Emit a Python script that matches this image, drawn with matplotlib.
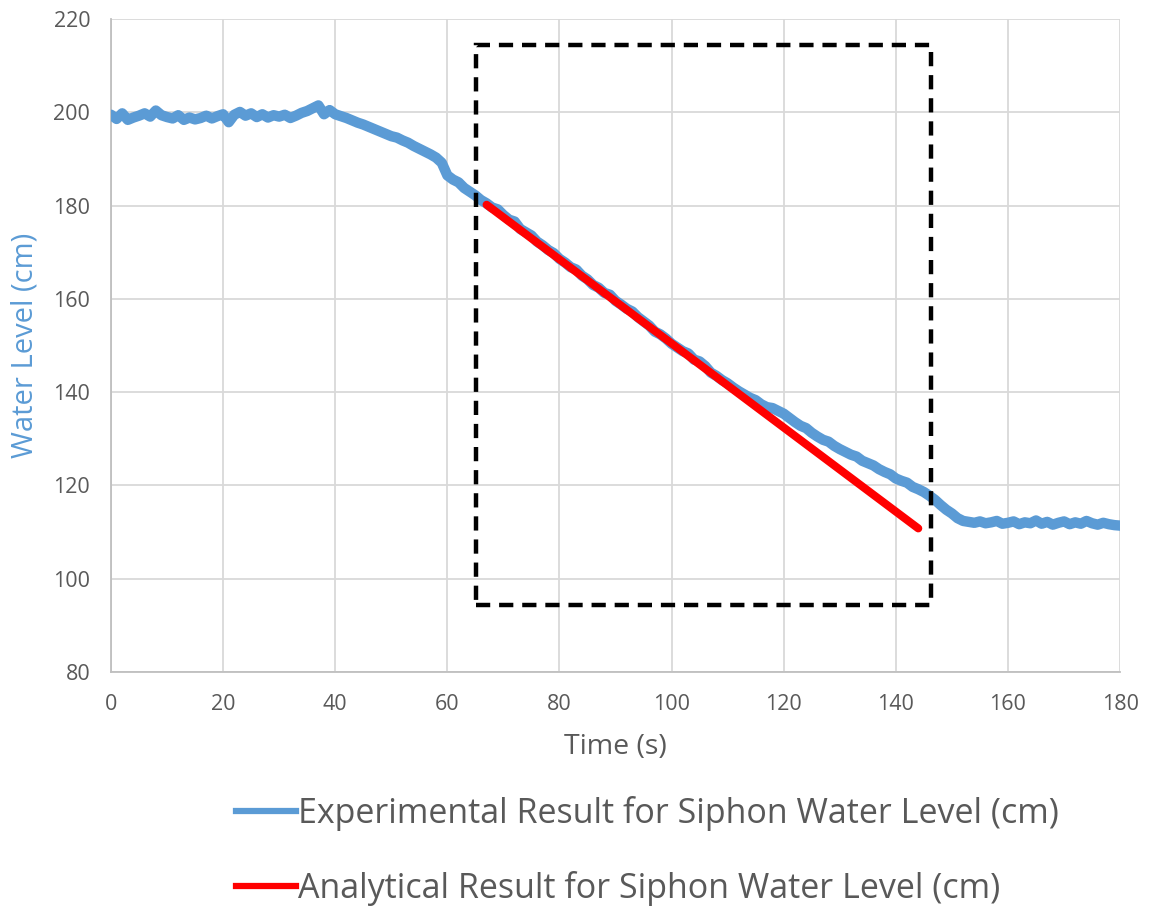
import matplotlib
matplotlib.use("Agg")
import matplotlib.pyplot as plt
from matplotlib.patches import Rectangle
from matplotlib.lines import Line2D

# ---- data ----
time_s = list(range(0, 181))
level_exp = [
    199.5, 198.6, 199.8, 198.4, 198.9, 199.3, 199.8, 199.1, 200.4, 199.4,
    199.0, 198.7, 199.4, 198.4, 198.9, 198.5, 198.8, 199.3, 198.7, 199.2,
    199.6, 197.9, 199.5, 200.1, 199.3, 199.8, 199.0, 199.6, 198.9, 199.4,
    199.1, 199.5, 198.8, 199.3, 199.9, 200.3, 200.9, 201.5, 199.6, 200.5,
    199.6, 199.2, 198.8, 198.3, 197.8, 197.4, 196.9, 196.4, 195.9, 195.4,
    194.9, 194.6, 194.0, 193.5, 192.8, 192.2, 191.6, 191.0, 190.3, 189.2,
    186.5, 185.6, 185.0, 183.8, 183.0, 182.2, 181.2, 180.5, 179.6, 179.2,
    178.0, 177.0, 176.6, 175.0, 174.3, 173.6, 172.3, 171.5, 170.5, 169.8,
    168.6, 167.8, 166.8, 166.3, 165.0, 164.2, 163.0, 162.4, 161.3, 160.9,
    159.6, 158.8, 157.9, 157.3, 156.1, 155.2, 154.3, 153.0, 152.4, 151.5,
    150.4, 149.6, 148.8, 148.3, 147.0, 146.6, 145.6, 144.2, 143.5, 142.6,
    141.9, 141.0, 140.2, 139.5, 138.8, 138.3, 137.4, 136.8, 136.6, 136.0,
    135.4, 134.5, 133.6, 132.8, 132.3, 131.3, 130.5, 129.8, 129.4, 128.5,
    127.8, 127.2, 126.6, 126.2, 125.3, 124.8, 124.3, 123.5, 122.9, 122.4,
    121.5, 121.0, 120.6, 119.7, 119.2, 118.6, 117.8, 116.9, 115.8, 114.8,
    114.0, 113.0, 112.4, 112.2, 112.0, 112.3, 111.9, 112.1, 112.4, 111.8,
    112.0, 112.3, 111.7, 112.1, 111.9, 112.5, 111.8, 112.2, 111.6, 112.0,
    112.3, 111.7, 112.1, 111.8, 112.4, 111.9, 111.6, 112.0, 111.7, 111.5,
    111.4,
]
time_analytical = [67, 144]
level_analytical = [180.2, 110.8]

x_ticks = [0, 20, 40, 60, 80, 100, 120, 140, 160, 180]
y_ticks = [80, 100, 120, 140, 160, 180, 200, 220]

# highlight box (data coords)
box_x0, box_x1 = 65.1, 146.3
box_y0, box_y1 = 94.4, 214.4

BLUE = "#5B9BD5"
RED = "#FF0000"
GRAY_TXT = "#595959"

plt.rcParams['font.family'] = ['Open Sans', 'DejaVu Sans']

fig = plt.figure(figsize=(11.5, 9.11), dpi=100)
ax = fig.add_axes([0.0965, 0.2623, 0.974 - 0.0965, 0.979 - 0.2623])

ax.plot(time_s, level_exp, color=BLUE, lw=7.5, solid_capstyle='round',
        solid_joinstyle='round', zorder=3)
ax.plot(time_analytical, level_analytical, color=RED, lw=5.8, solid_capstyle='round', zorder=4)

ax.add_patch(Rectangle((box_x0, box_y0), box_x1 - box_x0, box_y1 - box_y0,
                       fill=False, edgecolor='black', lw=3.2,
                       linestyle=(0, (3.2, 2.0)), zorder=5))

ax.set_xlim(0, 180)
ax.set_ylim(80, 220)
ax.set_xticks(x_ticks)
ax.set_yticks(y_ticks)
ax.grid(True, color='#D9D9D9', lw=1.3)
ax.set_axisbelow(True)
for s in ['top', 'right']:
    ax.spines[s].set_visible(False)
for s in ['left', 'bottom']:
    ax.spines[s].set_color('#BFBFBF')
    ax.spines[s].set_linewidth(1.3)
ax.tick_params(length=0, labelsize=15.5, colors=GRAY_TXT)
ax.tick_params(axis='x', pad=16)
ax.tick_params(axis='y', pad=15)

ax.set_xlabel('Time (s)', fontsize=20.5, color=GRAY_TXT, labelpad=13)
ax.set_ylabel('Water Level (cm)', fontsize=21, color=BLUE, labelpad=10)

handles = [Line2D([], [], color=BLUE, lw=4.5),
           Line2D([], [], color=RED, lw=4.5)]
labels = ['Experimental Result for Siphon Water Level (cm)',
          'Analytical Result for Siphon Water Level (cm)']
leg = fig.legend(handles, labels, loc='center', bbox_to_anchor=(0.563, 0.066),
                 frameon=False, fontsize=24.5, handlelength=1.75, handletextpad=0.05,
                 labelspacing=1.18, alignment='left')
for t in leg.get_texts():
    t.set_color(GRAY_TXT)

fig.savefig('out.png', dpi=100)
